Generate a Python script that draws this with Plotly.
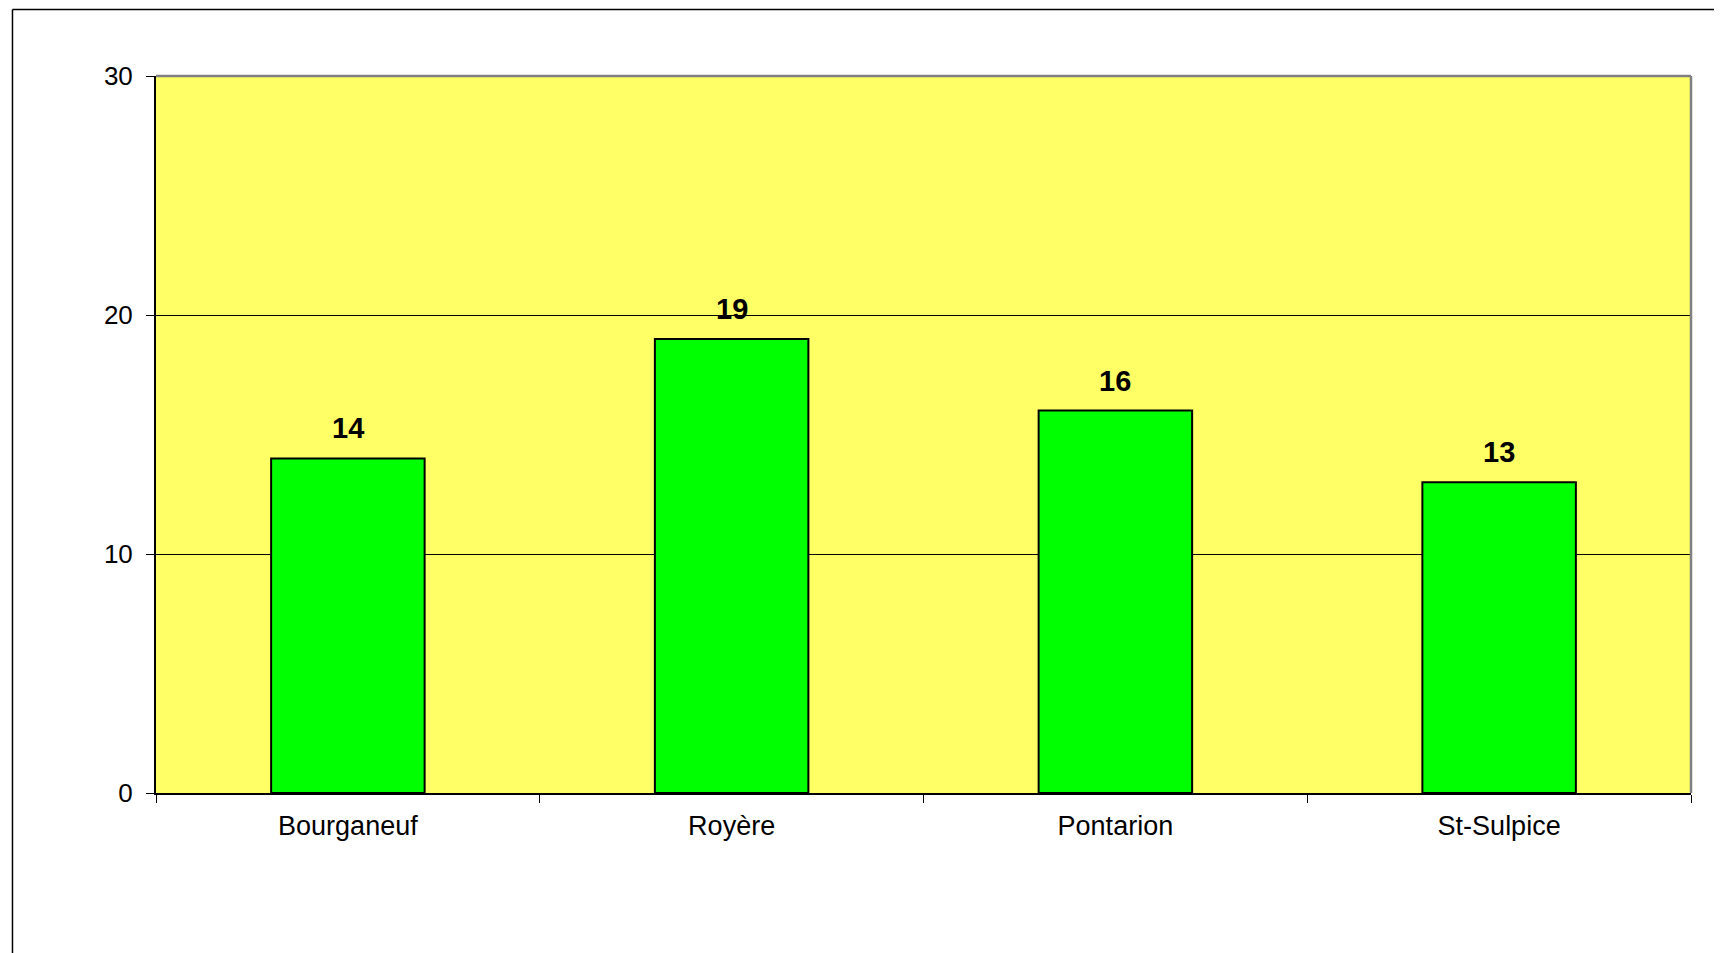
import plotly.graph_objects as go

categories = ["Bourganeuf", "Royère", "Pontarion", "St-Sulpice"]
values = [14, 19, 16, 13]
y_ticks = [0, 10, 20, 30]

FONT = "Liberation Sans, Arial, sans-serif"

fig = go.Figure()
fig.add_trace(go.Bar(
    x=categories, y=values, width=0.4,
    marker=dict(color="#00FF00", line=dict(color="black", width=2)),
    hoverinfo="skip",
))

for c, v in zip(categories, values):
    fig.add_annotation(x=c, y=v, text=f"<b>{v}</b>", showarrow=False,
                       yanchor="bottom", yshift=12,
                       font=dict(family=FONT, size=29, color="black"))

# outer frame (left & top visible)
fig.add_shape(type="line", xref="paper", yref="paper", x0=-0.0935, x1=-0.0935, y0=1.0927, y1=-0.3,
              line=dict(color="black", width=1.5))
fig.add_shape(type="line", xref="paper", yref="paper", x0=-0.0935, x1=1.1, y0=1.0927, y1=1.0927,
              line=dict(color="black", width=1.5))
# gray plot border top & right
fig.add_shape(type="line", xref="paper", yref="paper", x0=0, x1=1, y0=1, y1=1,
              line=dict(color="#808080", width=2.5), layer="above")
fig.add_shape(type="line", xref="paper", yref="paper", x0=1, x1=1, y0=0, y1=1,
              line=dict(color="#808080", width=2.5), layer="above")

fig.update_layout(
    width=1722, height=953,
    margin=dict(l=148, r=39, t=68, b=168),
    paper_bgcolor="white", plot_bgcolor="#FFFF66",
    showlegend=False, bargap=0.6,
    font=dict(family=FONT, size=26, color="black"),
)
fig.update_xaxes(
    showline=True, linecolor="black", linewidth=2,
    ticks="outside", ticklen=8, tickcolor="black", tickwidth=1,
    tickson="boundaries", showgrid=False, ticklabelstandoff=8,
    tickfont=dict(family=FONT, size=27, color="black"),
)
fig.update_yaxes(
    range=[0, 30], tickvals=y_ticks,
    showline=True, linecolor="black", linewidth=2,
    ticks="outside", ticklen=8, tickcolor="black", tickwidth=1,
    showgrid=True, gridcolor="black", gridwidth=1, zeroline=False,
    ticklabelstandoff=8,
    tickfont=dict(family=FONT, size=26, color="black"),
)

fig.write_html("out.html")
